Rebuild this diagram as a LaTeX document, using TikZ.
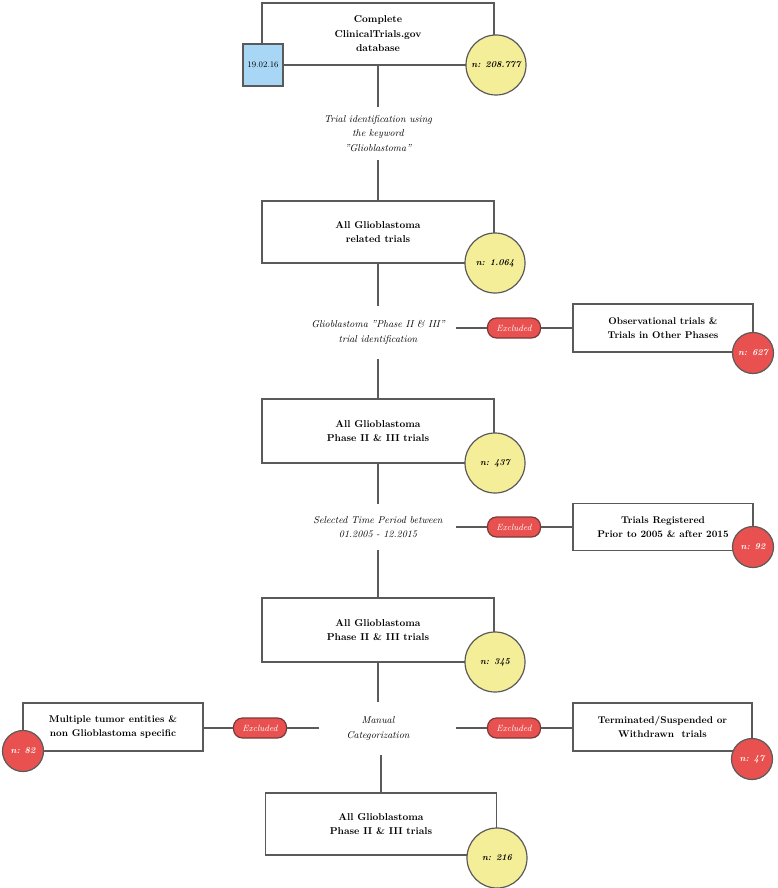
\documentclass[tikz,border=0pt]{standalone}
\usetikzlibrary{calc}
\definecolor{linec}{HTML}{5A5A5A}
\definecolor{yellowf}{HTML}{F5EE98}
\definecolor{redf}{HTML}{E8514F}
\definecolor{bluef}{HTML}{A8D6F5}
\definecolor{pillb}{HTML}{7A3A3A}
\begin{document}
\begin{tikzpicture}[x=1pt,y=-1pt,
  conn/.style={draw=linec,line width=1.2pt},
  mainbox/.style={draw=linec,line width=1.2pt,fill=white,minimum width=232pt,minimum height=62pt,inner sep=0pt,align=center,font=\bfseries\fontsize{10}{14.5}\selectfont},
  sidebox/.style={draw=linec,line width=1.2pt,fill=white,minimum width=180pt,minimum height=48pt,inner sep=0pt,align=center,font=\bfseries\fontsize{9.8}{14}\selectfont},
  midtext/.style={minimum width=156pt,minimum height=53pt,inner sep=0pt,align=center,font=\itshape\fontsize{10}{14.5}\selectfont},
  ycirc/.style={circle,draw=linec,line width=1.2pt,fill=yellowf,minimum size=60pt,inner sep=0pt,font=\bfseries\itshape\fontsize{9}{11}\selectfont},
  rcirc/.style={circle,draw=linec,line width=1.2pt,fill=redf,minimum size=41pt,inner sep=0pt,text=white,font=\bfseries\itshape\fontsize{9}{11}\selectfont},
  datebox/.style={draw=linec,line width=1.2pt,fill=bluef,minimum width=40pt,minimum height=42pt,inner sep=0pt,font=\fontsize{8.5}{10}\selectfont},
  pill/.style={draw=pillb,line width=1.2pt,fill=redf,rounded corners=9pt,minimum width=53pt,minimum height=20pt,inner sep=0pt,text=white,font=\itshape\fontsize{9}{10}\selectfont}]
\useasboundingbox (0,0) rectangle (778,888);
\fill[white] (0,0) rectangle (778,888);

% main column
\node[mainbox] (box1) at (378,34) {Complete\\ClinicalTrials.gov\\database};
\node[datebox] (date) at (263,65) {19.02.16};
\node[ycirc] (n1) at (496,65) {n: 208.777};

\node[midtext] (t1) at (378,133.5) {Trial identification using\\the keyword\\''Glioblastoma''};

\node[mainbox] (box2) at (378,232) {All Glioblastoma\\related trials};
\node[ycirc] (n2) at (495,263) {n: 1.064};

\node[midtext] (t2) at (378,332.5) {Glioblastoma ''Phase II \& III''\\trial identification};

\node[mainbox,minimum height=64pt] (box3) at (378,431) {All Glioblastoma\\Phase II \& III trials};
\node[ycirc] (n3) at (495,463) {n: 437};

\node[midtext,minimum height=46pt] (t3) at (378,527) {Selected Time Period between\\01.2005 - 12.2015};

\node[mainbox,minimum height=64pt] (box4) at (378,630) {All Glioblastoma\\Phase II \& III trials};
\node[ycirc] (n4) at (495,662) {n: 345};

\node[midtext] (t4) at (378,728.5) {Manual\\Categorization};

\node[mainbox,minimum width=231pt] (box5) at (381,824) {All Glioblastoma\\Phase II \& III trials};
\node[ycirc] (n5) at (497,858) {n: 216};

% side boxes
\node[sidebox] (ex1) at (663,328) {Observational trials \&\\Trials in Other Phases};
\node[rcirc] (r1) at (753,353) {n: 627};
\node[pill] (p1) at (514,328) {Excluded};

\node[sidebox,minimum height=47pt] (ex2) at (663,527) {Trials Registered\\Prior to 2005 \& after 2015};
\node[rcirc] (r2) at (753,547) {n: 92};
\node[pill] (p2) at (514,527) {Excluded};

\node[sidebox] (ex3) at (113,727) {Multiple tumor entities \&\\non Glioblastoma specific};
\node[rcirc] (r3) at (23,751) {n: 82};
\node[pill] (p3) at (260,728) {Excluded};
\coordinate (c3) at (319,728);

\node[sidebox,minimum width=179pt] (ex4) at (662.5,727) {Terminated/Suspended or\\Withdrawn\ \ trials};
\node[rcirc] (r4) at (752,759) {n: 47};
\node[pill] (p4) at (514,728) {Excluded};

% connectors
\draw[conn] (box1.south) -- (t1.north);
\draw[conn] (t1.south) -- (box2.north);
\draw[conn] (box2.south) -- (t2.north);
\draw[conn] (t2.south) -- (box3.north);
\draw[conn] (box3.south) -- (t3.north);
\draw[conn] (t3.south) -- (box4.north);
\draw[conn] (box4.south) -- (t4.north);
\draw[conn] (t4.south -| box5.north) -- (box5.north);
\draw[conn] (t2.east |- p1.west) -- (p1.west);
\draw[conn] (p1.east) -- (ex1.west |- p1.east);
\draw[conn] (t3.east |- p2.west) -- (p2.west);
\draw[conn] (p2.east) -- (ex2.west |- p2.east);
\draw[conn] (t4.east |- p4.west) -- (p4.west);
\draw[conn] (p4.east) -- (ex4.west |- p4.east);
\draw[conn] (c3) -- (p3.east);
\draw[conn] (p3.west) -- (ex3.east |- p3.west);
\end{tikzpicture}
\end{document}
